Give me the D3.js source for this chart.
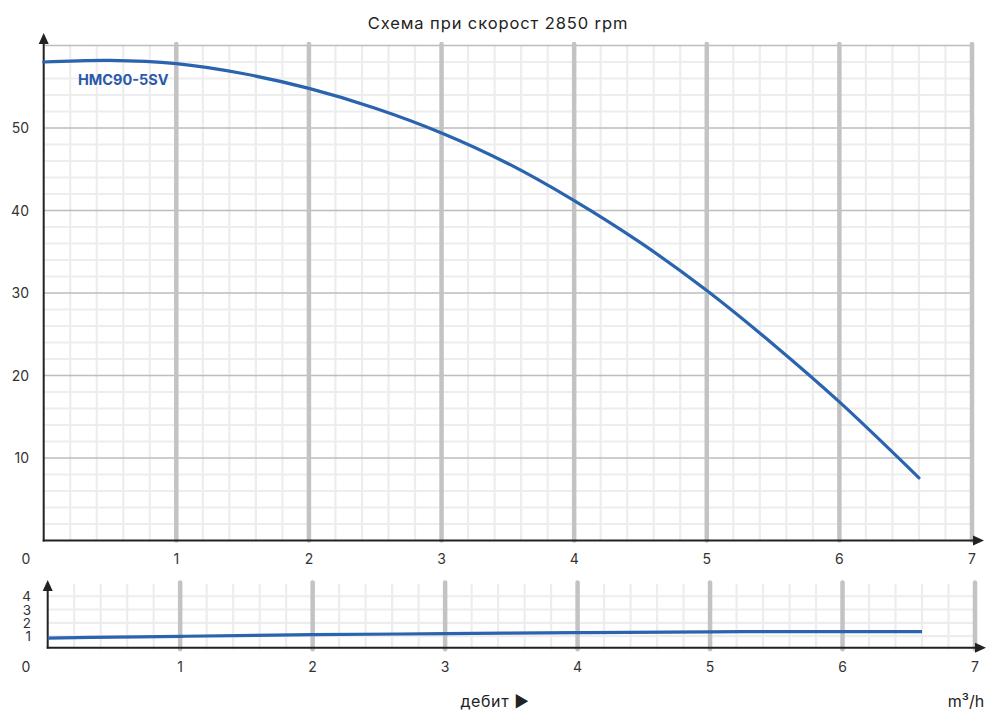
<!DOCTYPE html>
<html lang="bg">
<head>
<meta charset="utf-8">
<script src="https://cdn.jsdelivr.net/npm/d3@7"></script>
<style>
  html, body { margin: 0; padding: 0; background: #fff; }
  svg { display: block; font-family: Inter, "Noto Sans", sans-serif; }
</style>
</head>
<body>
<svg id="chart" width="987" height="711" lang="bg"></svg>
<script>
// ---- data ----
const title = "Схема при скорост 2850 rpm";
const seriesName = "HMC90-5SV";
const flow = [0, 0.5, 1, 1.5, 2, 2.5, 3, 3.5, 4, 4.5, 5, 5.5, 6, 6.6];
const head = [58.0, 58.2, 57.8, 56.6, 54.8, 52.4, 49.4, 45.7, 41.2, 36.1, 30.3, 23.8, 16.8, 7.6];
const flowPower = [0, 0.5, 1, 2, 3, 4, 5, 6, 6.6];
const power = [0.85, 0.92, 0.98, 1.1, 1.18, 1.26, 1.32, 1.34, 1.34];
const xTicks = [1, 2, 3, 4, 5, 6, 7];
const yTicksMain = [10, 20, 30, 40, 50];
const yTicksPower = [1, 2, 3, 4];
const xLabel = "дебит ►";
const unitLabel = "m³/h";

const svg = d3.select("#chart");
const dark = "#222";
const lineColor = "#2b64ae";

// ---- main chart scales ----
const x1 = d3.scaleLinear().domain([0, 7]).range([43.7, 972]);
const y1 = d3.scaleLinear().domain([0, 60]).range([540.5, 45.5]);

// ---- power chart scales ----
const x2 = d3.scaleLinear().domain([0, 7]).range([47.7, 975]);
const y2 = d3.scaleLinear().domain([0, 5]).range([649.3, 583]);

function drawGrid(g, x, y, majorYs, minorYLines, topY) {
  const minorX = d3.range(0, 7.0001, 0.2).filter(v => Math.abs(v - Math.round(v)) > 1e-6);
  g.selectAll(".vmin").data(minorX).join("line")
    .attr("x1", d => x(d)).attr("x2", d => x(d))
    .attr("y1", topY).attr("y2", y(0))
    .attr("stroke", "#ededed").attr("stroke-width", 2.2);
  g.selectAll(".hmin").data(minorYLines).join("line")
    .attr("x1", x(0)).attr("x2", x(7))
    .attr("y1", d => y(d)).attr("y2", d => y(d))
    .attr("stroke", "#ededed").attr("stroke-width", 2.2);
  g.selectAll(".hmaj").data(majorYs).join("line")
    .attr("x1", x(0)).attr("x2", x(7))
    .attr("y1", d => y(d)).attr("y2", d => y(d))
    .attr("stroke", "#bdbdbd").attr("stroke-width", 1.5);
  g.selectAll(".vmaj").data(xTicks).join("line")
    .attr("x1", d => x(d)).attr("x2", d => x(d))
    .attr("y1", topY - 1.5).attr("y2", y(0))
    .attr("stroke", "#c3c3c3").attr("stroke-width", 4.5)
    .attr("stroke-linecap", "round");
}

// ===== main chart =====
const gMain = svg.append("g");
const minorMain = d3.range(2, 60, 2).filter(v => v % 10 !== 0);
drawGrid(gMain, x1, y1, [10, 20, 30, 40, 50, 60], minorMain, y1(60));

gMain.append("line").attr("x1", x1(0)).attr("x2", x1(0)).attr("y1", y1(0) + 1).attr("y2", 40)
  .attr("stroke", dark).attr("stroke-width", 2);
gMain.append("path").attr("d", `M${x1(0) - 5},${44} L${x1(0)},${33} L${x1(0) + 5},${44} Z`).attr("fill", dark);
gMain.append("line").attr("x1", x1(0) - 1).attr("x2", 978).attr("y1", y1(0)).attr("y2", y1(0))
  .attr("stroke", dark).attr("stroke-width", 2);
gMain.append("path").attr("d", `M${973},${y1(0) - 5} L${984},${y1(0)} L${973},${y1(0) + 5} Z`).attr("fill", dark);

gMain.selectAll(".xt").data(xTicks).join("text")
  .attr("x", d => x1(d)).attr("y", 564)
  .attr("text-anchor", "middle").attr("font-size", 14).attr("fill", "#333")
  .text(d => d);
gMain.append("text").attr("x", 26).attr("y", 564).attr("text-anchor", "middle")
  .attr("font-size", 14).attr("fill", "#333").text("0");
gMain.selectAll(".yt").data(yTicksMain).join("text")
  .attr("x", 29).attr("y", d => y1(d) + 5)
  .attr("text-anchor", "end").attr("font-size", 14).attr("fill", "#333")
  .text(d => d);

const line1 = d3.line().x((d, i) => x1(flow[i])).y(d => y1(d)).curve(d3.curveCatmullRom.alpha(0.5));
gMain.append("path").attr("d", line1(head))
  .attr("fill", "none").attr("stroke", lineColor).attr("stroke-width", 3.2)
  .attr("stroke-linecap", "round");
gMain.append("text").attr("x", 78).attr("y", 84.5)
  .attr("font-size", 14.5).attr("font-weight", 700).attr("fill", "#2a5aa8")
  .text(seriesName);

svg.append("text").attr("x", 498).attr("y", 29).attr("text-anchor", "middle")
  .attr("font-size", 16.5).attr("letter-spacing", 0.9).attr("fill", "#222").text(title);

// ===== power chart =====
const gPow = svg.append("g");
drawGrid(gPow, x2, y2, [], [1, 2, 3, 4], 584);

gPow.append("line").attr("x1", x2(0)).attr("x2", x2(0)).attr("y1", 648.5).attr("y2", 587)
  .attr("stroke", dark).attr("stroke-width", 2);
gPow.append("path").attr("d", `M${x2(0) - 5},${591} L${x2(0)},${580} L${x2(0) + 5},${591} Z`).attr("fill", dark);
gPow.append("line").attr("x1", x2(0) - 1).attr("x2", 980).attr("y1", 647.8).attr("y2", 647.8)
  .attr("stroke", dark).attr("stroke-width", 2);
gPow.append("path").attr("d", `M${975},${642.8} L${986},${647.8} L${975},${652.8} Z`).attr("fill", dark);

gPow.selectAll(".xt").data(xTicks).join("text")
  .attr("x", d => x2(d)).attr("y", 672)
  .attr("text-anchor", "middle").attr("font-size", 14).attr("fill", "#333")
  .text(d => d);
gPow.append("text").attr("x", 26).attr("y", 672).attr("text-anchor", "middle")
  .attr("font-size", 14).attr("fill", "#333").text("0");
gPow.selectAll(".yt").data(yTicksPower).join("text")
  .attr("x", 31).attr("y", d => y2(d) + 5)
  .attr("text-anchor", "end").attr("font-size", 13.5).attr("fill", "#333")
  .text(d => d);

const line2 = d3.line().x((d, i) => x2(flowPower[i])).y(d => y2(d)).curve(d3.curveMonotoneX);
gPow.append("path").attr("d", line2(power))
  .attr("fill", "none").attr("stroke", lineColor).attr("stroke-width", 3.2);

svg.append("text").attr("x", 495).attr("y", 707).attr("text-anchor", "middle")
  .attr("font-size", 16).attr("letter-spacing", 0.6).attr("fill", "#222").text(xLabel);
svg.append("text").attr("x", 966).attr("y", 707).attr("text-anchor", "middle")
  .attr("font-size", 16).attr("fill", "#222").text(unitLabel);
</script>
</body>
</html>
